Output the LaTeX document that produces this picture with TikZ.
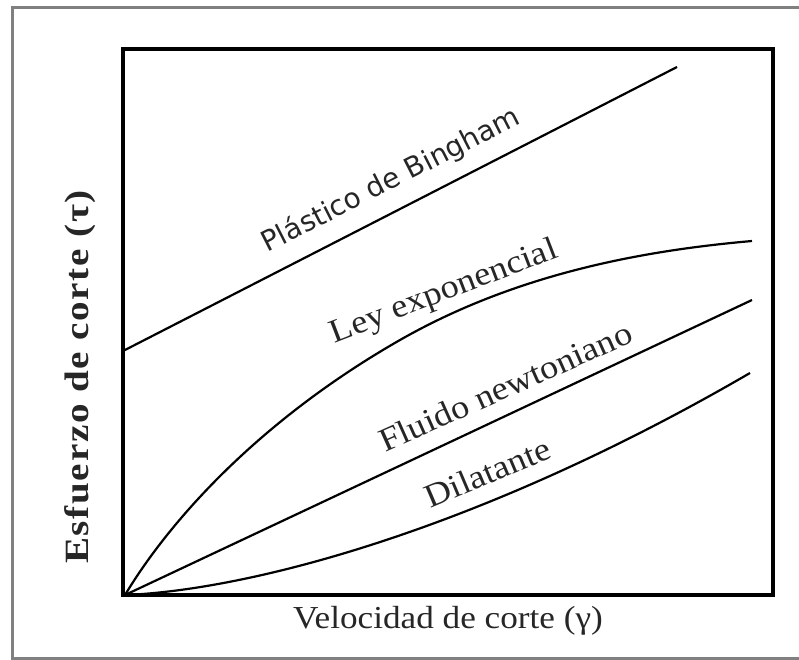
\documentclass[tikz,border=0pt]{standalone}
\usepackage{fontspec}
\setmainfont{Liberation Serif}[FakeStretch=1.1]
\newfontfamily\sansfont{DejaVu Sans}
\newfontfamily\ylabelfont{Liberation Serif}[FakeStretch=1.15,LetterSpace=5]

\tikzset{
  curve/.style={line width=2.2pt,black},
  lbl/.style={anchor=base,inner sep=0pt,font=\fontsize{33}{33}\selectfont,text=black!85},
}

\begin{document}
\begin{tikzpicture}[x=1pt,y=-1pt]
\useasboundingbox (0,0) rectangle (799,660);
\draw[line width=3pt,gray] (799,8) -- (12,8) -- (12,658) -- (799,658); %outer frame
\draw[line width=3.5pt] (123,49) rectangle (773,595); %plot box

\draw[curve] (123,351) -- (677,67); %Bingham
\draw[curve] (125,595) .. controls (170,520) and (260,420) .. (400,340)
  .. controls (520,271.5) and (650,250) .. (752,241); %ley exponencial
\draw[curve] (125,595) -- (752,300); %newtoniano
\draw[curve] (125,595) .. controls (250,590) and (480,530) .. (750,373); %dilatante

\node[lbl,font=\sansfont\fontsize{28}{28}\selectfont,rotate=27] (bingham) at (395,188) {Plástico de Bingham};
\node[lbl,rotate=21] (leyexp) at (447,300) {Ley exponencial};
\node[lbl,rotate=24] (newton) at (510,397) {Fluido newtoniano};
\node[lbl,rotate=23] (dilat) at (492,483) {Dilatante};
\node[lbl,font=\fontsize{32}{32}\selectfont] (xlabel) at (448,628) {Velocidad de corte (γ)};
\node[lbl,font=\ylabelfont\bfseries\fontsize{34}{34}\selectfont,rotate=90] (ylabel) at (88,377) {Esfuerzo de corte (τ)};

\end{tikzpicture}
\end{document}
